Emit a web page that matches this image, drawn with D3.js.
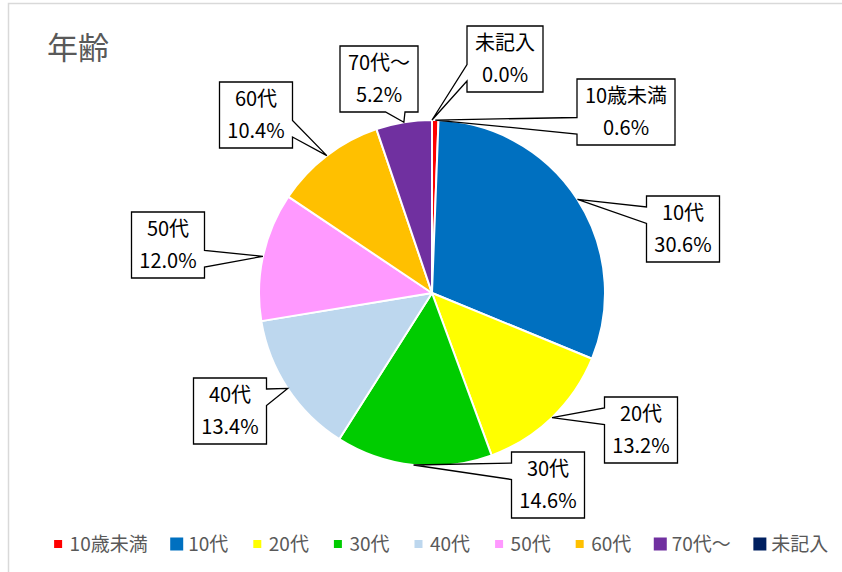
<!DOCTYPE html>
<html>
<head>
<meta charset="utf-8">
<script src="https://cdn.jsdelivr.net/npm/d3@7"></script>
<style>
  body { margin: 0; background: #fff; }
  svg { display: block; }
</style>
</head>
<body>
<div id="chart"></div>
<script>
const title = '年齢';
const categories = ['10歳未満', '10代', '20代', '30代', '40代', '50代', '60代', '70代～', '未記入'];
const percents = [0.6, 30.6, 13.2, 14.6, 13.4, 12.0, 10.4, 5.2, 0.0];
const colors = ['#ff0000', '#0070c0', '#ffff00', '#00cc00', '#bdd7ee', '#ff99ff', '#ffc000', '#7030a0', '#002060'];

// where the label boxes sit (box centres)
const calloutCentres = [
    [626, 112], [683, 229], [641, 430], [548, 485], [230, 411],
    [168, 245], [256, 115], [379, 79], [505, 59]
];
// legend key squares are not all the same size in the original
const legendKeySize = [8, 13, 8, 8, 8, 8, 8, 13, 13];

const width = 842, height = 572;
const cx = 432, cy = 293, r = 173;
const fontFamily = '"Noto Sans CJK JP", "Noto Sans", sans-serif';

const svg = d3.select('#chart').append('svg')
    .attr('width', width)
    .attr('height', height);

// chart area border
svg.append('path')
    .attr('d', 'M8.5,' + (height + 5) + 'V3.5H' + (width + 5))
    .attr('fill', 'none')
    .attr('stroke', '#d9d9d9')
    .attr('stroke-width', 1.5);

svg.append('text')
    .attr('x', 47)
    .attr('y', 59)
    .attr('font-family', fontFamily)
    .attr('font-size', 31)
    .attr('fill', '#595959')
    .text(title);

const data = categories.map((c, i) => ({ name: c, value: percents[i], color: colors[i] }));

const pie = d3.pie().sort(null).value(d => d.value);
const arcs = pie(data);
const arc = d3.arc().innerRadius(0).outerRadius(r);
const edge = d3.arc().innerRadius(r).outerRadius(r);

const g = svg.append('g').attr('transform', 'translate(' + cx + ',' + cy + ')');

g.selectAll('.slice')
    .data(arcs)
    .enter()
    .append('path')
    .attr('class', 'slice')
    .attr('d', arc)
    .attr('fill', d => d.data.color)
    .attr('stroke', '#fff')
    .attr('stroke-width', 2)
    .attr('stroke-linejoin', 'round');

// excel style wedge callout: rect with a pointer from one side
function calloutPath(x, y, w, h, ax, ay){
    let mx = x + w / 2, my = y + h / 2;
    let dxn = (ax - mx) / w, dyn = (ay - my) / h;
    let pts;
    if(Math.abs(dxn) > Math.abs(dyn)){
        let b1 = ay < my ? y + h * 2 / 12 : y + h * 7 / 12;
        let b2 = ay < my ? y + h * 5 / 12 : y + h * 10 / 12;
        if(dxn < 0)
            pts = [[x, y], [x + w, y], [x + w, y + h], [x, y + h], [x, b2], [ax, ay], [x, b1]];
        else
            pts = [[x, y], [x + w, y], [x + w, b1], [ax, ay], [x + w, b2], [x + w, y + h], [x, y + h]];
    } else {
        let b1 = ax < mx ? x + w * 2 / 12 : x + w * 7 / 12;
        let b2 = ax < mx ? x + w * 5 / 12 : x + w * 10 / 12;
        if(dyn < 0)
            pts = [[x, y], [b1, y], [ax, ay], [b2, y], [x + w, y], [x + w, y + h], [x, y + h]];
        else
            pts = [[x, y], [x + w, y], [x + w, y + h], [b2, y + h], [ax, ay], [b1, y + h], [x, y + h]];
    }
    return d3.line()(pts) + 'Z';
}

const fmt = d3.format('.1f');
const boxH = 66;
const labels = svg.append('g');

arcs.forEach((d, i) => {
    let lg = labels.append('g');
    let path = lg.append('path');
    let [bx, by] = calloutCentres[i];
    let t1 = lg.append('text')
        .attr('x', bx).attr('y', by - 9)
        .attr('text-anchor', 'middle')
        .attr('font-family', fontFamily)
        .attr('font-size', 20)
        .text(d.data.name);
    let t2 = lg.append('text')
        .attr('x', bx).attr('y', by + 23)
        .attr('text-anchor', 'middle')
        .attr('font-family', fontFamily)
        .attr('font-size', 20)
        .text(fmt(d.data.value) + '%');
    let tw = Math.max(t1.node().getComputedTextLength(), t2.node().getComputedTextLength());
    let w = Math.round(tw + 16);
    let c = edge.centroid(d);
    path.attr('d', calloutPath(bx - w / 2, by - boxH / 2, w, boxH, cx + c[0], cy + c[1]))
        .attr('fill', '#fff')
        .attr('stroke', '#000')
        .attr('stroke-width', 1.3);
});

// legend
const legend = svg.append('g');
let lx = 0;
data.forEach((d, i) => {
    let s = legendKeySize[i];
    legend.append('rect')
        .attr('x', lx - 11.5 - s / 2).attr('y', 544 - s / 2)
        .attr('width', s).attr('height', s)
        .attr('fill', d.color);
    let t = legend.append('text')
        .attr('x', lx).attr('y', 551)
        .attr('font-family', fontFamily)
        .attr('font-size', 19)
        .attr('fill', '#595959')
        .text(d.name);
    lx += t.node().getComputedTextLength() + 40.5;
});
let legendW = lx - 40.5;
// text runs from 68 to 830 in the original
legend.attr('transform', 'translate(' + (449 - legendW / 2) + ',0)');
</script>
</body>
</html>
